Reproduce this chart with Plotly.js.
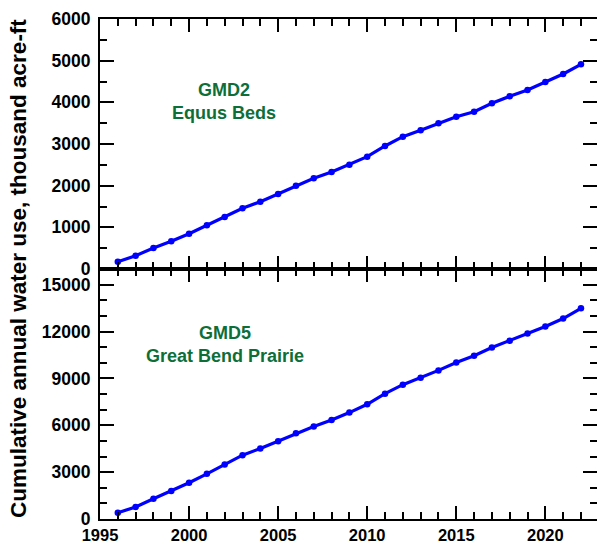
<!DOCTYPE html>
<html>
<head>
<meta charset="utf-8">
<script src="https://cdn.plot.ly/plotly-3.0.1.min.js"></script>
<style>html,body{margin:0;padding:0;background:#fff;}#chart{width:597px;height:541px;}</style>
</head>
<body>
<div id="chart"></div>
<script>
const years = [1996,1997,1998,1999,2000,2001,2002,2003,2004,2005,2006,2007,2008,2009,2010,2011,2012,2013,2014,2015,2016,2017,2018,2019,2020,2021,2022];
const gmd2 = [175,320,504,664,848,1048,1248,1456,1616,1800,2000,2176,2328,2504,2696,2952,3176,3328,3496,3656,3776,3976,4144,4296,4488,4680,4912];
const gmd5 = [402,766,1296,1787,2317,2892,3490,4085,4510,4979,5490,5916,6338,6810,7340,8023,8596,9043,9511,10021,10447,10979,11405,11873,12320,12830,13487];
const gmd2Label = 'GMD2<br>Equus Beds';
const gmd5Label = 'GMD5<br>Great Bend Prairie';
const yTitle = 'Cumulative annual water use, thousand acre-ft';

const FONT = 'Liberation Sans, Arial, sans-serif';
const lineStyle = {color: 'rgb(0,0,255)', width: 3.2};
const markerStyle = {color: 'rgb(0,0,255)', size: 6.5};

const traces = [
  {x: years, y: gmd2, xaxis: 'x', yaxis: 'y', mode: 'lines+markers', line: lineStyle, marker: markerStyle},
  {x: years, y: gmd5, xaxis: 'x2', yaxis: 'y2', mode: 'lines+markers', line: lineStyle, marker: markerStyle}
];

const xTickFont = {family: FONT, size: 16.5, color: '#000', weight: 'bold'};
const yTickFont = {family: FONT, size: 17.5, color: '#000', weight: 'bold'};
function xAxis(showLabels, anchor) {
  return {
    range: [1995, 2022.9], dtick: 5, tick0: 1995, anchor: anchor,
    showgrid: false, zeroline: false,
    showline: true, linecolor: '#000', linewidth: 2, mirror: 'ticks',
    ticks: 'inside', ticklen: 13, tickwidth: 2, tickcolor: '#000',
    minor: {dtick: 1, ticks: 'inside', ticklen: 7, tickwidth: 2, tickcolor: '#000', showgrid: false},
    showticklabels: showLabels, tickfont: xTickFont, domain: [0, 1], tickformat: 'd'
  };
}
function yAxis(range, dtick, minorDtick, domain, anchor) {
  return {
    range: range, dtick: dtick, tick0: 0, anchor: anchor, domain: domain,
    showgrid: false, zeroline: false,
    showline: true, linecolor: '#000', linewidth: 2, mirror: 'ticks',
    ticks: 'inside', ticklen: 14, tickwidth: 2, tickcolor: '#000',
    minor: {dtick: minorDtick, ticks: 'inside', ticklen: 7, tickwidth: 2, tickcolor: '#000', showgrid: false},
    tickfont: yTickFont, ticklabelstandoff: 4, tickformat: 'd', exponentformat: 'none'
  };
}

const green = '#0e6e38';
const layout = {
  width: 597, height: 541,
  margin: {l: 100, r: 0, t: 19, b: 22, pad: 0},
  paper_bgcolor: '#fff', plot_bgcolor: '#fff',
  showlegend: false,
  xaxis: xAxis(false, 'y'),
  yaxis: yAxis([0, 6000], 1000, 500, [0.5, 1], 'x'),
  xaxis2: xAxis(true, 'y2'),
  yaxis2: yAxis([0, 16000], 3000, 1000, [0, 0.5], 'x2'),
  annotations: [
    {text: gmd2Label, xref: 'paper', yref: 'paper', x: (224 - 100) / 497, y: (519 - 101) / 500, xanchor: 'center', yanchor: 'middle', showarrow: false, font: {family: FONT, size: 18, color: green, weight: 'bold'}},
    {text: gmd5Label, xref: 'paper', yref: 'paper', x: (225 - 100) / 497, y: (519 - 344) / 500, xanchor: 'center', yanchor: 'middle', showarrow: false, font: {family: FONT, size: 18, color: green, weight: 'bold'}},
    {text: yTitle, xref: 'paper', yref: 'paper', x: (18 - 100) / 497, y: 0.5, xanchor: 'center', yanchor: 'middle', textangle: -90, showarrow: false, font: {family: FONT, size: 22.5, color: '#000', weight: 'bold'}}
  ]
};

Plotly.newPlot('chart', traces, layout, {displayModeBar: false, staticPlot: true});
</script>
</body>
</html>
